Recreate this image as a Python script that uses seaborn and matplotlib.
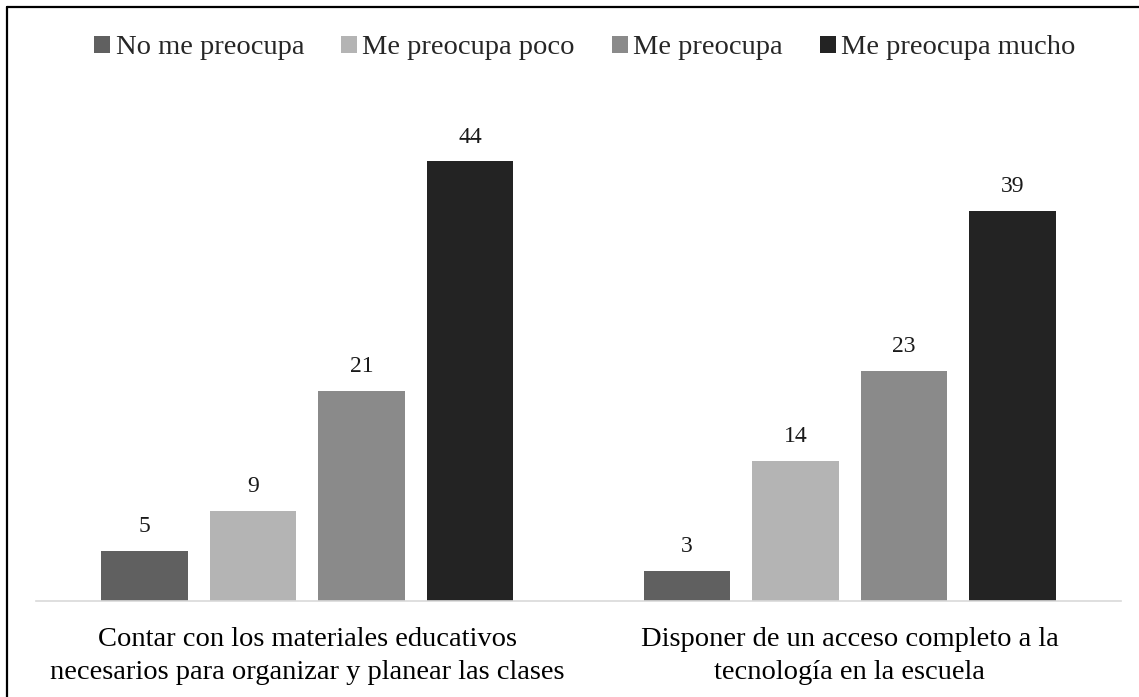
import matplotlib
matplotlib.use("Agg")
import matplotlib.pyplot as plt
from matplotlib.lines import Line2D
import seaborn as sns
import pandas as pd

categories = [
    "Contar con los materiales educativos\nnecesarios para organizar y planear las clases",
    "Disponer de un acceso completo a la\ntecnología en la escuela",
]
levels = ["No me preocupa", "Me preocupa poco", "Me preocupa", "Me preocupa mucho"]
values_cat1 = [5, 9, 21, 44]
values_cat2 = [3, 14, 23, 39]
colors = ["#606060", "#b4b4b4", "#8a8a8a", "#232323"]

rows = []
for cat, vals in zip(categories, [values_cat1, values_cat2]):
    for lvl, v in zip(levels, vals):
        rows.append({"Categoria": cat, "Nivel": lvl, "Valor": v})
df = pd.DataFrame(rows)

sns.set_theme(style="white")
plt.rcParams["font.family"] = ["Liberation Serif", "DejaVu Serif"]

W, H = 1139, 697
fig = plt.figure(figsize=(W / 100, H / 100), dpi=100)
ax = fig.add_axes([36 / W, (H - 600.5) / H, (1121 - 36) / W, 498.9 / H])

sns.barplot(data=df, x="Categoria", y="Valor", hue="Nivel", order=categories,
            hue_order=levels, palette=colors, width=0.8, gap=0.2,
            saturation=1, ax=ax, legend=True, linewidth=0)

ax.set_ylim(0, 50)
ax.set_xlim(-0.5, 1.5)
for c in ax.containers:
    ax.bar_label(c, fmt="%d", padding=10, fontsize=17, color="#1a1a1a")

ax.set_xlabel("")
ax.set_ylabel("")
ax.set_yticks([])
for s in ["top", "right", "left"]:
    ax.spines[s].set_visible(False)
ax.spines["bottom"].set_color("#d9d9d9")
ax.spines["bottom"].set_linewidth(1.2)
ax.tick_params(axis="x", length=0, pad=19, labelsize=20.5, colors="black")
for lbl in ax.get_xticklabels():
    lbl.set_linespacing(1.45)

handles, labels = ax.get_legend_handles_labels()
ax.get_legend().remove()
fig.legend(handles, labels, loc="center", bbox_to_anchor=(585 / W, 1 - 48 / H),
           ncol=4, frameon=False, fontsize=20.5, handlelength=0.55,
           handleheight=0.55, handletextpad=0.2, columnspacing=1.3)

# Outer border (top and left visible)
fig.add_artist(Line2D([6.5 / W, 1.01], [1 - 6.5 / H, 1 - 6.5 / H],
                      color="black", linewidth=1.6, transform=fig.transFigure))
fig.add_artist(Line2D([6.5 / W, 6.5 / W], [-0.01, 1 - 6.5 / H],
                      color="black", linewidth=1.6, transform=fig.transFigure))

fig.savefig("out.png", dpi=100)
